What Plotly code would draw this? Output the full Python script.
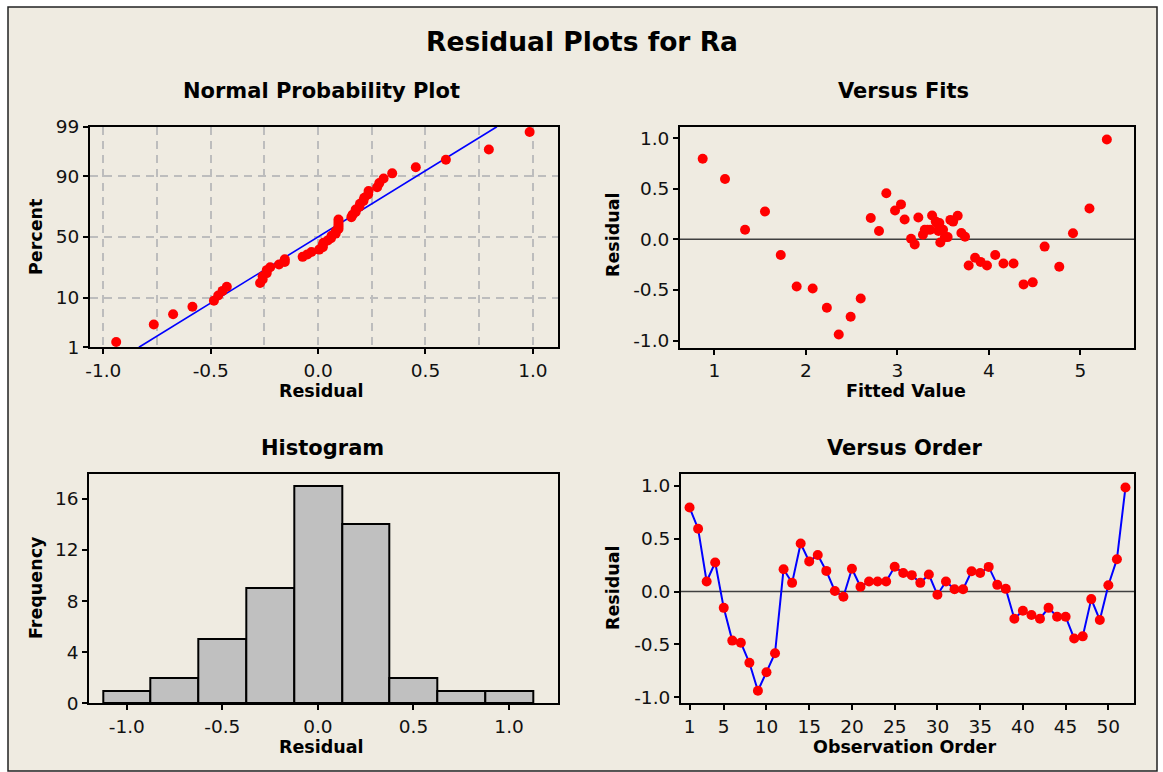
import plotly.graph_objects as go
from statistics import NormalDist, mean, stdev

W, H = 1163, 772

# ---------------- data ----------------
order = list(range(1, 53))
residuals = [0.795, 0.595, 0.095, 0.275, -0.155, -0.465, -0.485, -0.675, -0.94, -0.765,
             -0.585, 0.211, 0.082, 0.455, 0.285, 0.345, 0.195, 0.005, -0.05, 0.215,
             0.045, 0.095, 0.095, 0.095, 0.235, 0.175, 0.155, 0.082, 0.161, -0.031,
             0.095, 0.022, 0.022, 0.192, 0.175, 0.233, 0.063, 0.025, -0.258, -0.182,
             -0.223, -0.258, -0.155, -0.239, -0.239, -0.445, -0.425, -0.072, -0.27, 0.06,
             0.305, 0.985]
fitted = [0.873, 1.117, 1.336, 1.554, 1.726, 1.90, 2.075, 2.23, 2.36, 2.49,
          2.60, 2.71, 2.80, 2.88, 2.975, 3.04, 3.08, 3.15, 3.19, 3.23,
          3.28, 3.30, 3.33, 3.36, 3.38, 3.42, 3.44, 3.45, 3.46, 3.47,
          3.50, 3.52, 3.55, 3.58, 3.61, 3.66, 3.70, 3.74, 3.78, 3.85,
          3.91, 3.98, 4.07, 4.16, 4.27, 4.38, 4.48, 4.61, 4.77, 4.92,
          5.10, 5.29]
pct_ticks = [1, 10, 50, 90, 99]
res_ticks = [-1.0, -0.5, 0.0, 0.5, 1.0]
res_minor = [-0.75, -0.25, 0.25, 0.75]
fit_ticks = [1, 2, 3, 4, 5]
freq_ticks = [0, 4, 8, 12, 16]
order_ticks = [1, 5, 10, 15, 20, 25, 30, 35, 40, 45, 50]

# normal probability plot positions (median ranks)
nd = NormalDist()
n = len(residuals)
sorted_res = sorted(residuals)
zscores = [nd.inv_cdf((i - 0.3) / (n + 0.4)) for i in range(1, n + 1)]
mu, sd = mean(residuals), stdev(residuals)
zlo, zhi = nd.inv_cdf(0.01), nd.inv_cdf(0.99)
line_z = [zlo, zhi]
line_x = [mu + sd * z for z in line_z]

# ---------------- helpers ----------------
def px(x):
    return x / W

def py(y):
    return 1 - y / H

FONT = "DejaVu Sans"
RED = "#FF0000"
BLUE = "#0000FF"
BG = "#EFEBE1"
GRID = "#BDBDBD"

fig = go.Figure()

fig.add_trace(go.Scatter(x=line_x, y=line_z, mode="lines",
                         line=dict(color=BLUE, width=1.6), xaxis="x", yaxis="y",
                         showlegend=False, hoverinfo="skip"))
fig.add_trace(go.Scatter(x=sorted_res, y=zscores, mode="markers",
                         marker=dict(color=RED, size=10), xaxis="x", yaxis="y",
                         showlegend=False))
fig.add_trace(go.Scatter(x=fitted, y=residuals, mode="markers",
                         marker=dict(color=RED, size=10), xaxis="x2", yaxis="y2",
                         showlegend=False))
fig.add_trace(go.Histogram(x=residuals, xbins=dict(start=-1.125, end=1.125, size=0.25),
                           marker=dict(color="#C0C0C0", line=dict(color="black", width=2)),
                           xaxis="x3", yaxis="y3", showlegend=False))
fig.add_trace(go.Scatter(x=order, y=residuals, mode="lines+markers",
                         line=dict(color=BLUE, width=2),
                         marker=dict(color=RED, size=10), xaxis="x4", yaxis="y4",
                         showlegend=False))

tickfont = dict(family=FONT, size=18.5, color="#111111")

def ax(domain, rng, tickvals, ticktext, anchor, **kw):
    d = dict(domain=domain, range=rng, tickvals=tickvals, ticktext=ticktext,
             anchor=anchor, showline=True, linecolor="black", linewidth=2,
             mirror=True, ticks="outside", ticklen=5, tickwidth=1.5,
             tickcolor="black", tickfont=tickfont, showgrid=False,
             zeroline=False, fixedrange=True, automargin=False)
    d.update(kw)
    return d

def fmt1(v):
    return f"{v:.1f}"

res_text = [fmt1(v) for v in res_ticks]

# domains in paper coords
npp_x = [px(90), px(558)]
npp_y = [py(347.3), py(126.7)]
fits_x = [px(680), px(1134.3)]
fits_y = [py(347.5), py(127.3)]
hist_x = [px(89.3), px(558)]
hist_y = [py(703.3), py(474)]
ord_x = [px(681), px(1134)]
ord_y = [py(703.3), py(474)]

fig.update_layout(
    width=W, height=H, autosize=False,
    margin=dict(l=0, r=0, t=0, b=0, pad=0, autoexpand=False),
    paper_bgcolor="white",
    plot_bgcolor="white",
    bargap=0,
    xaxis=ax(npp_x, [-1.062, 1.117], res_ticks, res_text, "y",
             showgrid=True, gridcolor=GRID, gridwidth=1.5, griddash="8px,6px",
             minor=dict(tickvals=res_minor, showgrid=True, gridcolor=GRID,
                        gridwidth=1.5, griddash="8px,6px", ticks="")),
    yaxis=ax(npp_y, [zlo, zhi], [nd.inv_cdf(p / 100) for p in pct_ticks],
             [str(p) for p in pct_ticks], "x",
             showgrid=True, gridcolor=GRID, gridwidth=1.5, griddash="8px,6px"),
    xaxis2=ax(fits_x, [0.625, 5.59], fit_ticks, [str(v) for v in fit_ticks], "y2"),
    yaxis2=ax(fits_y, [-1.068, 1.106], res_ticks, res_text, "x2"),
    xaxis3=ax(hist_x, [-1.196, 1.256], res_ticks, res_text, "y3"),
    yaxis3=ax(hist_y, [0, 17.95], freq_ticks, [str(v) for v in freq_ticks], "x3"),
    xaxis4=ax(ord_x, [0, 53], order_ticks, [str(v) for v in order_ticks], "y4"),
    yaxis4=ax(ord_y, [-1.059, 1.113], res_ticks, res_text, "x4"),
)

shapes = [
    dict(type="rect", xref="paper", yref="paper", x0=px(8), x1=px(1157),
         y0=py(771), y1=py(7), fillcolor=BG, line=dict(color="#222222", width=1.5),
         layer="below"),
    dict(type="line", xref="x2 domain", yref="y2", x0=0, x1=1, y0=0, y1=0,
         line=dict(color="#404040", width=1.6), layer="below"),
    dict(type="line", xref="x4 domain", yref="y4", x0=0, x1=1, y0=0, y1=0,
         line=dict(color="#404040", width=1.6), layer="below"),
]
fig.update_layout(shapes=shapes)

def label(text, x, y, size, bold=True, angle=0):
    t = f"<b>{text}</b>" if bold else text
    fig.add_annotation(text=t, x=px(x), y=py(y), xref="paper", yref="paper",
                       showarrow=False, textangle=angle, xanchor="center",
                       yanchor="middle",
                       font=dict(family=FONT, size=size, color="black"))

label("Residual Plots for Ra", 582, 42, 26.5)
label("Normal Probability Plot", 321, 91, 21)
label("Versus Fits", 903, 91, 21)
label("Histogram", 322, 448, 21)
label("Versus Order", 904, 448, 21)

label("Residual", 321, 391, 17.5)
label("Fitted Value", 906, 391, 17.5)
label("Residual", 321, 747, 17.5)
label("Observation Order", 904, 747, 17.5)
label("Percent", 36, 237, 17.5, angle=-90)
label("Residual", 613, 235, 17.5, angle=-90)
label("Frequency", 36, 588, 17.5, angle=-90)
label("Residual", 613, 588, 17.5, angle=-90)

fig.write_html("out.html")
